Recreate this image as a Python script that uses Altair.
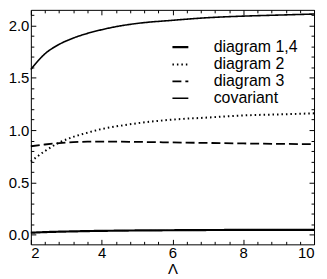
import altair as alt
import pandas as pd

# ---- data ----
lam = [2, 2.4, 2.8, 3.2, 3.6, 4, 4.5, 5, 6, 7, 8, 9, 10]
diagram_14 = [0.018, 0.024, 0.028, 0.031, 0.034, 0.036, 0.038, 0.040, 0.042, 0.044, 0.045, 0.046, 0.046]
diagram_2 = [0.70, 0.80, 0.88, 0.935, 0.975, 1.01, 1.04, 1.065, 1.10, 1.12, 1.14, 1.15, 1.16]
diagram_3 = [0.845, 0.862, 0.876, 0.885, 0.889, 0.89, 0.889, 0.887, 0.882, 0.877, 0.872, 0.868, 0.865]
covariant = [1.58, 1.73, 1.82, 1.88, 1.925, 1.96, 1.995, 2.02, 2.05, 2.075, 2.09, 2.10, 2.11]

series_names = ["diagram 1,4", "diagram 2", "diagram 3", "covariant"]
series_values = [diagram_14, diagram_2, diagram_3, covariant]

x_major = [2, 4, 6, 8, 10]
x_minor = [2.4, 2.8, 3.2, 3.6, 4.4, 4.8, 5.2, 5.6, 6.4, 6.8, 7.2, 7.6, 8.4, 8.8, 9.2, 9.6]
y_major = [0.0, 0.5, 1.0, 1.5, 2.0]
y_minor = [0.1, 0.2, 0.3, 0.4, 0.6, 0.7, 0.8, 0.9, 1.1, 1.2, 1.3, 1.4, 1.6, 1.7, 1.8, 1.9, 2.1]

rows = []
for name, vals in zip(series_names, series_values):
    for xv, yv in zip(lam, vals):
        rows.append({"lam": xv, "val": yv, "series": name})
df = pd.DataFrame(rows)

FONT = "Liberation Sans"
xscale = alt.Scale(domain=[2, 10], nice=False, zero=False)
yscale = alt.Scale(domain=[-0.093, 2.15], nice=False, zero=False)

legend = alt.Legend(
    title=None, orient="none", legendX=141, legendY=28,
    symbolType="stroke", symbolSize=256, symbolStrokeColor="black",
    labelFont=FONT, labelFontSize=16, labelColor="black",
    labelOffset=24, rowPadding=0,
)

def ax(orient, values, size, labels, title=None, fmt=None, pad=2):
    kw = dict(orient=orient, values=values, tickSize=size, offset=-size,
              domain=False, grid=False, labels=labels, tickColor="black",
              tickWidth=1, title=title)
    if labels:
        kw.update(labelFont=FONT, labelFontSize=15, labelColor="black",
                  labelPadding=pad)
    if fmt:
        kw["format"] = fmt
    if title:
        kw.update(titleFont=FONT, titleFontSize=15, titleFontWeight="normal",
                  titleColor="black", titleBaseline="alphabetic", titleY=34)
    return alt.Axis(**kw)

base = alt.Chart(df)

lines = base.mark_line(color="black", interpolate="monotone", strokeCap="butt").encode(
    x=alt.X("lam:Q", scale=xscale, axis=ax("bottom", x_major, 5, True, title="Λ", fmt="d", pad=1)),
    y=alt.Y("val:Q", scale=yscale, axis=ax("left", y_major, 5, True, fmt=".1f", pad=2)),
    detail="series:N",
    strokeDash=alt.StrokeDash(
        "series:N",
        scale=alt.Scale(domain=series_names, range=[[1, 0], [1.5, 3], [9, 4], [1, 0]]),
        legend=legend,
    ),
    strokeWidth=alt.StrokeWidth(
        "series:N",
        scale=alt.Scale(domain=series_names, range=[2.2, 1.6, 2.0, 1.0]),
        legend=legend,
    ),
)

def ghost(xa, ya):
    return base.mark_line(opacity=0).encode(
        x=alt.X("lam:Q", scale=xscale, axis=xa),
        y=alt.Y("val:Q", scale=yscale, axis=ya),
        detail="series:N",
    )

g1 = ghost(ax("bottom", x_minor, 3, False), ax("left", y_minor, 3, False))
g2 = ghost(ax("top", x_major, 5, False), ax("right", y_major, 5, False))
g3 = ghost(ax("top", x_minor, 3, False), ax("right", y_minor, 3, False))

chart = (
    alt.layer(lines, g1, g2, g3)
    .resolve_axis(x="independent", y="independent")
    .properties(width=285, height=236, padding=0, background="white")
    .configure_view(stroke="black", strokeWidth=1)
)

chart.save("out.html", embed_options={"renderer": "svg", "actions": False})
